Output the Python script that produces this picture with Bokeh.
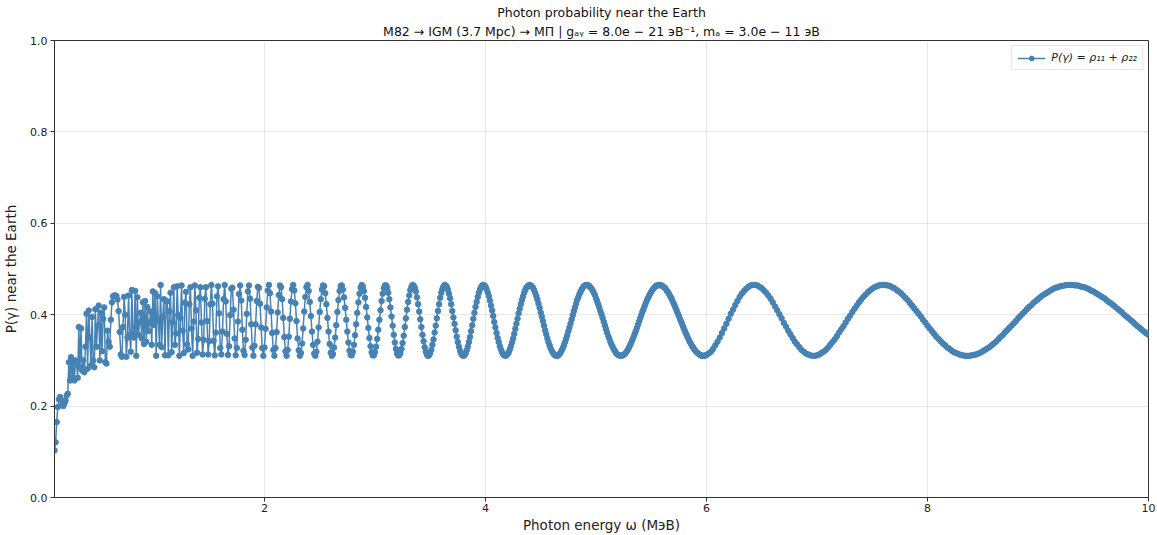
import numpy as np
from bokeh.plotting import figure
from bokeh.models import (ColumnDataSource, Range1d, Legend, LegendItem, Title,
                          NumeralTickFormatter)
from bokeh.embed import file_html
from bokeh.resources import INLINE

# Photon energy grid (MeV): fine sampling below 6 MeV, coarser above
energy_fine = np.arange(10, 600) / 100      # 0.10 ... 5.99, step 0.01
energy_coarse = np.arange(300, 501) / 50    # 6.00 ... 10.00, step 0.02

# Photon survival probability P(gamma) = rho_11 + rho_22 near the Earth
p_fine = [
    0.103, 0.121, 0.165, 0.198, 0.215, 0.220, 0.214, 0.203, 0.200, 0.206,
    0.212, 0.223, 0.227, 0.296, 0.256, 0.307, 0.262, 0.296, 0.256, 0.300,
    0.293, 0.262, 0.373, 0.285, 0.370, 0.278, 0.300, 0.274, 0.330, 0.402,
    0.282, 0.409, 0.350, 0.289, 0.395, 0.300, 0.285, 0.412, 0.330, 0.376,
    0.420, 0.300, 0.404, 0.320, 0.391, 0.416, 0.296, 0.293, 0.365, 0.340,
    0.330, 0.389, 0.427, 0.440, 0.442, 0.442, 0.441, 0.433, 0.408, 0.362,
    0.313, 0.308, 0.373, 0.439, 0.400, 0.308, 0.350, 0.442, 0.355, 0.319,
    0.454, 0.357, 0.350, 0.452, 0.310, 0.438, 0.356, 0.383, 0.404, 0.348,
    0.427, 0.336, 0.430, 0.341, 0.417, 0.364, 0.383, 0.407, 0.334, 0.451,
    0.378, 0.447, 0.310, 0.440, 0.388, 0.334, 0.465, 0.329, 0.396, 0.434,
    0.311, 0.430, 0.429, 0.311, 0.408, 0.448, 0.318, 0.383, 0.460, 0.334,
    0.359, 0.462, 0.399, 0.310, 0.393, 0.464, 0.365, 0.316, 0.426, 0.450,
    0.335, 0.324, 0.423, 0.460, 0.370, 0.310, 0.385, 0.464, 0.410, 0.317,
    0.347, 0.437, 0.460, 0.383, 0.313, 0.345, 0.435, 0.460, 0.386, 0.313,
    0.342, 0.423, 0.465, 0.424, 0.343, 0.311, 0.361, 0.440, 0.462, 0.403,
    0.327, 0.313, 0.363, 0.434, 0.465, 0.429, 0.358, 0.312, 0.331, 0.399,
    0.457, 0.459, 0.411, 0.348, 0.311, 0.327, 0.385, 0.445, 0.464, 0.431,
    0.367, 0.321, 0.312, 0.345, 0.402, 0.451, 0.464, 0.435, 0.379, 0.328,
    0.310, 0.332, 0.379, 0.430, 0.461, 0.459, 0.424, 0.372, 0.327, 0.310,
    0.328, 0.369, 0.416, 0.453, 0.465, 0.447, 0.407, 0.360, 0.323, 0.310,
    0.327, 0.362, 0.405, 0.443, 0.464, 0.460, 0.434, 0.393, 0.351, 0.320,
    0.310, 0.323, 0.352, 0.391, 0.429, 0.456, 0.465, 0.453, 0.425, 0.386,
    0.348, 0.322, 0.310, 0.316, 0.337, 0.370, 0.407, 0.439, 0.460, 0.465,
    0.452, 0.428, 0.397, 0.363, 0.334, 0.315, 0.310, 0.319, 0.341, 0.372,
    0.406, 0.434, 0.455, 0.464, 0.462, 0.447, 0.423, 0.393, 0.363, 0.336,
    0.317, 0.310, 0.314, 0.328, 0.350, 0.377, 0.406, 0.432, 0.452, 0.463,
    0.464, 0.455, 0.438, 0.415, 0.389, 0.363, 0.339, 0.321, 0.312, 0.311,
    0.319, 0.334, 0.355, 0.379, 0.404, 0.427, 0.446, 0.459, 0.465, 0.462,
    0.452, 0.437, 0.417, 0.394, 0.371, 0.349, 0.331, 0.318, 0.311, 0.311,
    0.318, 0.330, 0.347, 0.367, 0.389, 0.410, 0.430, 0.446, 0.458, 0.464,
    0.464, 0.459, 0.448, 0.434, 0.416, 0.396, 0.376, 0.356, 0.339, 0.325,
    0.315, 0.311, 0.311, 0.316, 0.325, 0.338, 0.354, 0.373, 0.392, 0.411,
    0.428, 0.442, 0.454, 0.461, 0.465, 0.464, 0.459, 0.451, 0.438, 0.423,
    0.407, 0.390, 0.373, 0.356, 0.342, 0.329, 0.319, 0.313, 0.310, 0.311,
    0.316, 0.323, 0.334, 0.346, 0.361, 0.376, 0.392, 0.408, 0.423, 0.437,
    0.448, 0.456, 0.462, 0.465, 0.464, 0.461, 0.455, 0.446, 0.436, 0.423,
    0.408, 0.394, 0.380, 0.366, 0.352, 0.340, 0.330, 0.321, 0.315, 0.311,
    0.310, 0.311, 0.315, 0.322, 0.330, 0.340, 0.351, 0.364, 0.377, 0.391,
    0.404, 0.417, 0.428, 0.439, 0.448, 0.455, 0.460, 0.464, 0.465, 0.464,
    0.461, 0.456, 0.449, 0.441, 0.431, 0.420, 0.409, 0.397, 0.384, 0.372,
    0.360, 0.349, 0.340, 0.331, 0.324, 0.318, 0.313, 0.311, 0.310, 0.311,
    0.314, 0.318, 0.324, 0.331, 0.339, 0.348, 0.358, 0.369, 0.380, 0.391,
    0.403, 0.413, 0.423, 0.432, 0.440, 0.448, 0.454, 0.459, 0.462, 0.464,
    0.465, 0.464, 0.462, 0.459, 0.454, 0.448, 0.441, 0.433, 0.424, 0.415,
    0.405, 0.396, 0.386, 0.376, 0.366, 0.357, 0.348, 0.340, 0.333, 0.326,
    0.321, 0.317, 0.313, 0.311, 0.310, 0.310, 0.311, 0.314, 0.317, 0.322,
    0.327, 0.333, 0.340, 0.347, 0.355, 0.364, 0.372, 0.381, 0.390, 0.399,
    0.408, 0.416, 0.424, 0.432, 0.438, 0.445, 0.450, 0.455, 0.459, 0.462,
    0.464, 0.465, 0.465, 0.464, 0.463, 0.460, 0.457, 0.453, 0.448, 0.443,
    0.436, 0.430, 0.423, 0.416, 0.408, 0.401, 0.393, 0.385, 0.377, 0.369,
    0.361, 0.354, 0.348, 0.341, 0.335, 0.330, 0.325, 0.321, 0.317, 0.314,
    0.312, 0.311, 0.310, 0.310, 0.311, 0.312, 0.314, 0.317, 0.320, 0.324,
    0.329, 0.334, 0.339, 0.345, 0.351, 0.358, 0.364, 0.371, 0.378, 0.385,
    0.392, 0.399, 0.406, 0.412, 0.419, 0.425, 0.431, 0.436, 0.441, 0.446,
    0.450, 0.454, 0.457, 0.460, 0.462, 0.464, 0.464, 0.465, 0.465, 0.464,
    0.463, 0.461, 0.459, 0.457, 0.453, 0.450, 0.446, 0.441, 0.437, 0.432,
    0.426, 0.421, 0.415, 0.409, 0.403, 0.397, 0.391, 0.385, 0.379, 0.373,
    0.367, 0.361, 0.356, 0.350, 0.345, 0.340, 0.336, 0.331, 0.328, 0.324,
    0.321, 0.318, 0.316, 0.314, 0.312, 0.311, 0.310, 0.310, 0.310, 0.311,
]

p_coarse = [
    0.312, 0.315, 0.319, 0.325, 0.333,
    0.341, 0.350, 0.360, 0.370, 0.380,
    0.391, 0.402, 0.411, 0.421, 0.430,
    0.439, 0.446, 0.452, 0.457, 0.461,
    0.464, 0.465, 0.465, 0.464, 0.461,
    0.458, 0.453, 0.448, 0.442, 0.435,
    0.427, 0.418, 0.410, 0.401, 0.392,
    0.382, 0.374, 0.365, 0.357, 0.349,
    0.341, 0.335, 0.329, 0.323, 0.319,
    0.315, 0.313, 0.311, 0.310, 0.310,
    0.311, 0.313, 0.316, 0.319, 0.323,
    0.328, 0.334, 0.340, 0.346, 0.353,
    0.361, 0.368, 0.375, 0.383, 0.391,
    0.398, 0.406, 0.413, 0.420, 0.427,
    0.433, 0.439, 0.444, 0.449, 0.453,
    0.457, 0.460, 0.462, 0.464, 0.465,
    0.465, 0.465, 0.464, 0.463, 0.460,
    0.458, 0.454, 0.451, 0.447, 0.442,
    0.437, 0.432, 0.426, 0.420, 0.414,
    0.408, 0.402, 0.396, 0.389, 0.383,
    0.376, 0.370, 0.364, 0.358, 0.352,
    0.347, 0.342, 0.337, 0.333, 0.328,
    0.325, 0.321, 0.318, 0.316, 0.314,
    0.312, 0.311, 0.310, 0.310, 0.310,
    0.311, 0.312, 0.313, 0.315, 0.317,
    0.320, 0.323, 0.326, 0.329, 0.333,
    0.337, 0.341, 0.346, 0.351, 0.355,
    0.361, 0.366, 0.371, 0.376, 0.381,
    0.386, 0.392, 0.397, 0.402, 0.407,
    0.412, 0.417, 0.421, 0.426, 0.430,
    0.434, 0.438, 0.442, 0.445, 0.448,
    0.451, 0.454, 0.457, 0.459, 0.460,
    0.462, 0.463, 0.464, 0.465, 0.465,
    0.465, 0.465, 0.464, 0.464, 0.462,
    0.461, 0.460, 0.458, 0.456, 0.453,
    0.451, 0.448, 0.445, 0.442, 0.439,
    0.436, 0.432, 0.428, 0.425, 0.421,
    0.417, 0.413, 0.409, 0.405, 0.400,
    0.396, 0.392, 0.388, 0.384, 0.379,
    0.375, 0.371, 0.367, 0.363, 0.359,
    0.356,
]

x_ticks = [2, 4, 6, 8, 10]
y_ticks = [0.0, 0.2, 0.4, 0.6, 0.8, 1.0]

title_line1 = "Photon probability near the Earth"
title_line2 = "M82 \u2192 IGM (3.7 Mpc) \u2192 \u041c\u041f | g\u2090\u1d67 = 8.0e \u2212 21 \u044d\u0412\u207b\u00b9, m\u2090 = 3.0e \u2212 11 \u044d\u0412"
x_label = "Photon energy \u03c9 (\u041c\u044d\u0412)"
y_label = "P(\u03b3) near the Earth"
series_label = "P(\u03b3) = \u03c1\u2081\u2081 + \u03c1\u2082\u2082"

FONT = "DejaVu Sans"
COLOR = "#4682b4"

energy = np.concatenate([energy_fine, energy_coarse])
prob = np.concatenate([np.array(p_fine), np.array(p_coarse)])
src = ColumnDataSource(dict(energy=energy, prob=prob))

p = figure(width=1157, height=535, output_backend="svg", toolbar_location=None,
           x_range=Range1d(0.1, 10.0), y_range=Range1d(0.0, 1.0),
           min_border_left=54, min_border_right=9, min_border_top=40,
           min_border_bottom=38)

# two-line title: first line on top, second line next to the frame
p.title.text = title_line1
p.title.align = "center"
p.title.text_font = FONT
p.title.text_font_size = "12.5px"
p.title.text_font_style = "normal"
p.title.text_color = "#111111"
p.title.standoff = 0
p.add_layout(Title(text=title_line2, align="center", text_font=FONT,
                   text_font_size="12.5px", text_font_style="normal",
                   text_color="#111111", standoff=4), "above")

line = p.line("energy", "prob", source=src, line_color=COLOR, line_width=1.5)
dots = p.scatter("energy", "prob", source=src, size=5.5, fill_color=COLOR,
                 line_color=COLOR)

legend = Legend(items=[LegendItem(label=series_label, renderers=[line, dots])],
                location="top_right")
legend.label_text_font = FONT
legend.label_text_font_size = "11px"
legend.label_text_font_style = "italic"
legend.label_text_color = "#222222"
legend.label_height = 12
legend.glyph_height = 12
legend.glyph_width = 28
legend.label_standoff = 6
legend.border_line_color = "#cccccc"
legend.border_line_width = 1
legend.background_fill_alpha = 1.0
legend.padding = 5
legend.margin = 5
legend.spacing = 0
p.add_layout(legend)

p.xaxis.ticker = x_ticks
p.yaxis.ticker = y_ticks
p.yaxis.formatter = NumeralTickFormatter(format="0.0")
p.xaxis.axis_label = x_label
p.yaxis.axis_label = y_label
for ax in (p.xaxis, p.yaxis):
    ax.axis_label_text_font = FONT
    ax.axis_label_text_font_size = "13.5px"
    ax.axis_label_text_font_style = "normal"
    ax.axis_label_text_color = "#222222"
    ax.major_label_text_font = FONT
    ax.major_label_text_font_size = "11px"
    ax.major_label_text_color = "#222222"
    ax.axis_line_color = "#333333"
    ax.major_tick_line_color = "#333333"
    ax.major_tick_out = 4
    ax.major_tick_in = 0
    ax.minor_tick_out = 0
    ax.minor_tick_in = 0
p.xaxis.axis_label_standoff = 2
p.yaxis.axis_label_standoff = 8
p.xaxis.major_label_standoff = 2
p.yaxis.major_label_standoff = 3

p.grid.grid_line_color = "#b0b0b0"
p.grid.grid_line_alpha = 0.3
p.outline_line_color = "#333333"
p.outline_line_width = 1
p.outline_line_alpha = 1.0

open("out.html", "w").write(file_html(p, INLINE))
